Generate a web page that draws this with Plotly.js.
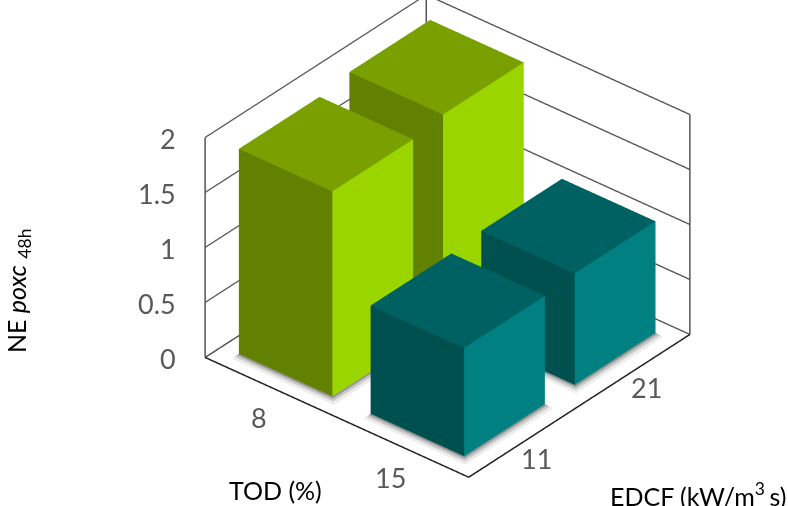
<!DOCTYPE html>
<html><head><meta charset="utf-8">
<script src="https://cdn.plot.ly/plotly-3.0.1.min.js"></script>
<style>html,body{margin:0;background:#fff;overflow:hidden}#c{width:788px;height:506px}</style></head>
<body><div id="c"></div>
<script>
// Treatment levels and measured response, one row per TOD level
const todLabels = ['8','15'];
const edcfLabels = ['11','21'];
const neValues = [[1.87, 1.92],[0.99, 1.02]];
const zTicks = [0,0.5,1,1.5,2];
const barFaces = [
 {top:'#7aa000',left:'#638100',right:'#9ad500'},
 {top:'#006163',left:'#005050',right:'#008080'}
];
const shadowSteps = [{grow:0.06,color:'#ececec'},{grow:0.035,color:'#c8c8c8'},{grow:0.015,color:'#969696'}];
const traces=[];

// A cuboid between two corners, one flat colour per visible side
function cuboid(x0,x1,y0,y1,z0,z1,c){
 const X=[x0,x1,x1,x0,x0,x1,x1,x0],Y=[y0,y0,y1,y1,y0,y0,y1,y1],Z=[z0,z0,z0,z0,z1,z1,z1,z1];
 traces.push({type:'mesh3d',x:X,y:Y,z:Z,i:[4,4,0,0,1,1],j:[5,6,1,5,2,6],k:[6,7,5,4,6,5],
  facecolor:[c.top,c.top,c.left,c.left,c.right,c.right],flatshading:true,
  lighting:{ambient:1,diffuse:0,specular:0,roughness:1,fresnel:0},hoverinfo:'skip'});
}
// Soft contact shadow: nested floor plates, then the bar itself
todLabels.forEach((t,a)=>edcfLabels.forEach((e,b)=>{
 shadowSteps.forEach((s,n)=>{
  const c={top:s.color,left:s.color,right:s.color};
  cuboid(a+0.13,a+0.84+s.grow,b+0.15-s.grow,b+0.88,0,0.002*(n+1),c);
 });
 cuboid(a+0.13,a+0.84,b+0.15,b+0.88,0,neValues[a][b],barFaces[a]);
}));
// Box frame: back verticals and the near floor edges
function edge(xs,ys,zs,color,width){
 traces.push({type:'scatter3d',mode:'lines',x:xs,y:ys,z:zs,line:{color,width},hoverinfo:'skip'});
}
edge([0,0,0],[0,0,2],[2,0,0],'#555555',3);
edge([0,0],[2,2],[0,2],'#555555',3);
edge([2,2],[2,2],[0,2],'#555555',3);
edge([0,2,2],[0,0,2],[0,0,0],'#222222',3);

const ax=o=>Object.assign({showbackground:false,showgrid:false,showline:false,zeroline:false,showspikes:false,showticklabels:false,ticks:'',title:{text:''},range:[0,2]},o);
const tickFont={family:'Lato',size:27,color:'#595959'};
const sceneNotes=[];
zTicks.forEach(v=>sceneNotes.push({x:0,y:0,z:v,text:String(v),showarrow:false,xanchor:'right',xshift:-27,yshift:-1,font:tickFont}));
todLabels.forEach((t,i)=>sceneNotes.push({x:i+0.5,y:0,z:0,text:t,showarrow:false,xshift:-12,yshift:-30,font:tickFont}));
edcfLabels.forEach((t,i)=>sceneNotes.push({x:2,y:i+0.5,z:0,text:t,showarrow:false,xshift:12,yshift:-17,font:tickFont}));
const titleFont={family:'Lato',size:25,color:'#000'};
const paperNote=(text,x,y,extra)=>Object.assign({text,xref:'paper',yref:'paper',x,y,xanchor:'center',yanchor:'middle',showarrow:false,font:titleFont},extra);
Plotly.newPlot('c',traces,{
 width:788,height:506,margin:{l:0,r:0,t:0,b:0},paper_bgcolor:'#fff',showlegend:false,
 scene:{domain:{x:[0.136,1],y:[0,1]},aspectmode:'manual',aspectratio:{x:1.36,y:1.36,z:1.034},
  camera:{projection:{type:'orthographic'},eye:{x:1.445,y:-1.722,z:1.368},up:{x:0,y:0,z:1},center:{x:0,y:0,z:-0.08}},
  xaxis:ax({}),yaxis:ax({}),
  zaxis:ax({tickvals:zTicks,showgrid:true,gridcolor:'#555555',gridwidth:3}),
  annotations:sceneNotes},
 annotations:[
  paperNote('NE <i>poxc</i> <sub>48h</sub>',0.023,0.425,{textangle:-90}),
  paperNote('TOD (%)',0.349,0.032),
  paperNote('EDCF (kW/m<sup>3 </sup>s)',0.886,0.022)
 ]
},{displayModeBar:false});
</script></body></html>
